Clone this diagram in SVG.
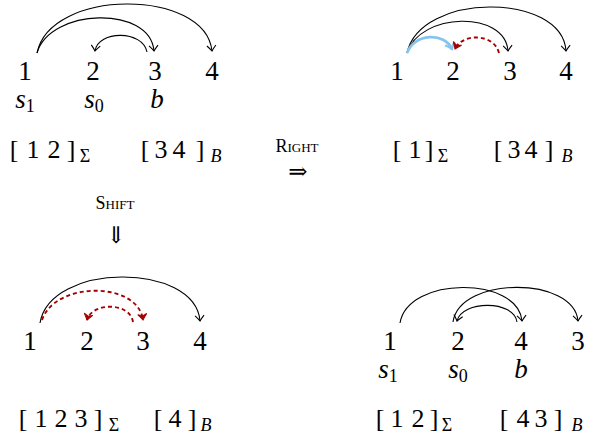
<svg xmlns="http://www.w3.org/2000/svg" width="591" height="439" viewBox="0 0 591 439" font-family="'Liberation Serif', 'Times New Roman', serif">
<style>
text{fill:#000}
.n{font-size:27px;text-anchor:middle}
.b{font-size:26px;text-anchor:middle}
.s{font-size:18px;text-anchor:middle}
.i{font-style:italic}
.lab{font-size:27px;text-anchor:middle}
.k{fill:none;stroke:#000;stroke-width:1.1}
.r{fill:none;stroke:#a50000;stroke-width:1.9;stroke-dasharray:4 3}
.bl{fill:none;stroke:#86c4ef;stroke-width:2.8}
.sym{font-family:"DejaVu Serif",serif;text-anchor:middle}
</style>
<defs>
<marker id="ak" markerUnits="userSpaceOnUse" markerWidth="14" markerHeight="14" refX="0" refY="0" viewBox="-7 -7 14 14" orient="auto" overflow="visible"><path d="M-5.5,-4.5 Q-1.8,-1.2 0,0 Q-1.8,1.2 -5.5,4.5" fill="none" stroke="#000" stroke-width="1.1"/></marker>
<marker id="ar" markerUnits="userSpaceOnUse" markerWidth="14" markerHeight="14" refX="0" refY="0" viewBox="-7 -7 14 14" orient="auto" overflow="visible"><path d="M-6,-4.5 Q-1.8,-1.2 0,0 Q-1.8,1.2 -6,4.5 L-4,0 Z" fill="#a50000" stroke="#a50000" stroke-width="1"/></marker>
<marker id="ab" markerUnits="userSpaceOnUse" markerWidth="14" markerHeight="14" refX="0" refY="0" viewBox="-7 -7 14 14" orient="auto" overflow="visible"><path d="M-6,-5 Q-1.8,-1.2 0,0 Q-1.8,1.2 -6,5" fill="none" stroke="#86c4ef" stroke-width="2.2"/></marker>
</defs>

<!-- Panel top-left -->
<g id="tl-n1"><text class="n" x="25" y="80">1</text><text class="lab" x="25" y="108"><tspan class="i">s</tspan><tspan font-size="18" dy="4">1</tspan></text></g>
<g id="tl-n2"><text class="n" x="93" y="80">2</text><text class="lab" x="94" y="108"><tspan class="i">s</tspan><tspan font-size="18" dy="4">0</tspan></text></g>
<g id="tl-n3"><text class="n" x="155" y="80">3</text><text class="lab i" x="157" y="108">b</text></g>
<g id="tl-n4"><text class="n" x="212" y="80">4</text></g>
<g id="tl-stack"><text class="b" y="158"><tspan x="14">[</tspan><tspan x="33">1</tspan><tspan x="54">2</tspan><tspan x="71">]</tspan></text><text class="s" x="85" y="162">Σ</text></g>
<g id="tl-buffer"><text class="b" y="158"><tspan x="145">[</tspan><tspan x="161">3</tspan><tspan x="179">4</tspan><tspan x="200">]</tspan></text><text class="s i" x="216" y="162">B</text></g>

<!-- Panel top-right -->
<g id="tr-n1"><text class="n" x="397" y="80">1</text></g>
<g id="tr-n2"><text class="n" x="453" y="80">2</text></g>
<g id="tr-n3"><text class="n" x="510" y="80">3</text></g>
<g id="tr-n4"><text class="n" x="566" y="80">4</text></g>
<g id="tr-stack"><text class="b" y="158"><tspan x="397">[</tspan><tspan x="415">1</tspan><tspan x="429">]</tspan></text><text class="s" x="443" y="162">Σ</text></g>
<g id="tr-buffer"><text class="b" y="158"><tspan x="498">[</tspan><tspan x="514">3</tspan><tspan x="531">4</tspan><tspan x="549">]</tspan></text><text class="s i" x="567" y="162">B</text></g>

<!-- Panel bottom-left -->
<g id="bl-n1"><text class="n" x="30" y="350">1</text></g>
<g id="bl-n2"><text class="n" x="87" y="350">2</text></g>
<g id="bl-n3"><text class="n" x="143" y="350">3</text></g>
<g id="bl-n4"><text class="n" x="200" y="350">4</text></g>
<g id="bl-stack"><text class="b" y="427"><tspan x="23">[</tspan><tspan x="41">1</tspan><tspan x="61">2</tspan><tspan x="81">3</tspan><tspan x="98">]</tspan></text><text class="s" x="114" y="431">Σ</text></g>
<g id="bl-buffer"><text class="b" y="427"><tspan x="158">[</tspan><tspan x="175">4</tspan><tspan x="192">]</tspan></text><text class="s i" x="206" y="431">B</text></g>

<!-- Panel bottom-right -->
<g id="br-n1"><text class="n" x="390" y="350">1</text><text class="lab" x="388" y="378"><tspan class="i">s</tspan><tspan font-size="18" dy="4">1</tspan></text></g>
<g id="br-n2"><text class="n" x="458" y="350">2</text><text class="lab" x="458" y="378"><tspan class="i">s</tspan><tspan font-size="18" dy="4">0</tspan></text></g>
<g id="br-n4"><text class="n" x="521" y="350">4</text><text class="lab i" x="521" y="378">b</text></g>
<g id="br-n3"><text class="n" x="578" y="350">3</text></g>
<g id="br-stack"><text class="b" y="427"><tspan x="380">[</tspan><tspan x="397">1</tspan><tspan x="418">2</tspan><tspan x="434">]</tspan></text><text class="s" x="447" y="431">Σ</text></g>
<g id="br-buffer"><text class="b" y="427"><tspan x="504">[</tspan><tspan x="523">4</tspan><tspan x="541">3</tspan><tspan x="558">]</tspan></text><text class="s i" x="577" y="431">B</text></g>

<!-- Transitions -->
<g id="t-right"><text x="297" y="152" text-anchor="middle"><tspan font-size="18">R</tspan><tspan font-size="13">IGHT</tspan></text><text class="sym" x="298" y="179" font-size="23">⇒</text></g>
<g id="t-shift"><text x="115" y="209" text-anchor="middle"><tspan font-size="18">S</tspan><tspan font-size="13">HIFT</tspan></text><text class="sym" x="116" y="243" font-size="23">⇓</text></g>

<g id="connectors">
<path class="k" d="M37,53 C50,-12 205,-12 212,51" marker-end="url(#ak)"/>
<path class="k" d="M37,53 C50,8 150,5 154,51" marker-end="url(#ak)"/>
<path class="k" d="M147,52 C143,30 98,30 95,51" marker-end="url(#ak)"/>
<path class="k" d="M407,53 C420,-8 562,-8 566,51" marker-end="url(#ak)"/>
<path class="k" d="M407,53 C420,12 505,10 508,51" marker-end="url(#ak)"/>
<path class="bl" d="M407,53 C414,33 445,32 452,49" marker-end="url(#ab)"/>
<path class="r" d="M499,53 C494,33 462,33 455,49" marker-end="url(#ar)"/>
<path class="k" d="M40,323 C50,262 195,262 200,321" marker-end="url(#ak)"/>
<path class="r" d="M42,320 C55,281 138,281 143,320" marker-end="url(#ar)"/>
<path class="r" d="M133,322 C130,302 92,302 87,320" marker-end="url(#ar)"/>
<path class="k" d="M400,323 C408,276 518,276 522,321" marker-end="url(#ak)"/>
<path class="k" d="M453,322 C460,276 574,276 578,321" marker-end="url(#ak)"/>
<path class="k" d="M517,322 C514,300 462,300 457,321" marker-end="url(#ak)"/>
</g>
</svg>
